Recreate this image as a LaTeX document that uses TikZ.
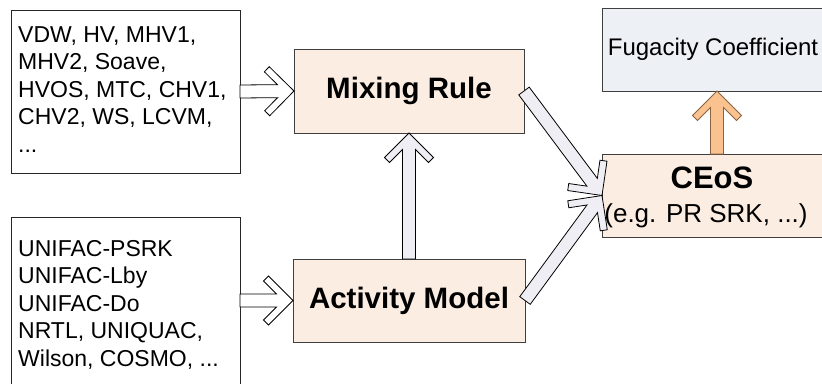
\documentclass[tikz,border=0pt]{standalone}
\usepackage{fontspec}
\setmainfont{Liberation Sans}
\usetikzlibrary{calc}
\definecolor{peach}{HTML}{FCEDE3}
\definecolor{mist}{HTML}{EDF0F5}
\definecolor{lilac}{HTML}{EFEEF4}
\definecolor{apricot}{HTML}{FAC28E}
\definecolor{apricotline}{HTML}{8A6440}
\definecolor{frame}{HTML}{3F3F3F}
\begin{document}
\begin{tikzpicture}[x=1pt,y=1pt,
  box/.style={rectangle, draw=frame, line width=1pt, inner sep=0pt, outer sep=0pt},
  listbox/.style={box, draw=black!85, fill=white},
  listtext/.style={anchor=north west, inner sep=0pt, align=left,
    font=\fontsize{23}{27.5}\selectfont},
  stage/.style={box, fill=peach, font=\fontsize{29.5}{34}\selectfont\bfseries},
  % block arrow with a thick chevron head, drawn from start to tip
  chevron/.style={line width=0.8pt, line join=miter, draw=black,
    to path={
      let \p1=(\tikztostart), \p2=(\tikztotarget),
          \n1={atan2(\y2-\y1,\x2-\x1)},
          \n2={veclen(\x2-\x1,\y2-\y1)},
          \n3={\n1+90}, \n4={\n1-90},
          \n5={\n2-16.5}, \n6={\n2-29.5}, \n7={\n2-24.5} in
      ($(\p1)+(\n3:6.5)$)
      -- ($(\p1)+(\n1:\n5)+(\n3:6.5)$)
      -- ($(\p1)+(\n1:\n6)+(\n3:19.5)$)
      -- ($(\p1)+(\n1:\n7)+(\n3:24.5)$)
      -- (\p2)
      -- ($(\p1)+(\n1:\n7)+(\n4:24.5)$)
      -- ($(\p1)+(\n1:\n6)+(\n4:19.5)$)
      -- ($(\p1)+(\n1:\n5)+(\n4:6.5)$)
      -- ($(\p1)+(\n4:6.5)$) -- cycle
    }},
]
\useasboundingbox (0,0) rectangle (822,-383);
\fill[white] (0,0) rectangle (822,-383);
\clip (0,0) rectangle (822,-383);

% input lists
\node[listbox, minimum width=229, minimum height=163] (lt) at (125.5,-91.5) {};
\node[listbox, minimum width=229, minimum height=167] (lb) at (125.5,-300.5) {};
\node[listtext] (lttext) at (18,-26)
  {VDW, HV, MHV1,\\MHV2, Soave,\\HVOS, MTC, CHV1,\\CHV2, WS, LCVM,\\...};
\node[listtext] (lbtext) at (18,-240)
  {UNIFAC-PSRK\\UNIFAC-Lby\\UNIFAC-Do\\NRTL, UNIQUAC,\\Wilson, COSMO, ...};

% model stages
\node[stage, minimum width=230, minimum height=84] (mr) at (409,-91) {Mixing Rule};
\node[stage, minimum width=232, minimum height=83] (am) at (409,-300.5) {Activity Model};
\node[box, fill=peach, minimum width=230, minimum height=83] (ce) at (717,-195.5) {};
\node[box, fill=mist, minimum width=230, minimum height=83] (fc) at (717,-49.5) {};
\node[anchor=base, inner sep=0pt, font=\fontsize{31}{36}\selectfont\bfseries]
  (cetitle) at (712,-188) {CEoS};
\node[anchor=base, inner sep=0pt, font=\fontsize{26}{30}\selectfont]
  (cesub) at (706,-222) {(e.g. PR SRK, ...)};
\node[anchor=base, inner sep=0pt, font=\fontsize{24}{28}\selectfont]
  (fctext) at (713,-55) {Fugacity Coefficient};

% flow arrows
\draw[chevron, fill=white] (lt.east) to (mr.west);
\draw[chevron, fill=white] (lb.east) to (am.west);
\draw[chevron, fill=lilac] (am.north) to (mr.south);
\draw[chevron, fill=lilac] (mr.east) to (ce.west);
\draw[chevron, fill=lilac] (am.east) to (ce.west);
\draw[chevron, fill=apricot, draw=apricotline] (ce.north) to (fc.south);
\end{tikzpicture}
\end{document}
